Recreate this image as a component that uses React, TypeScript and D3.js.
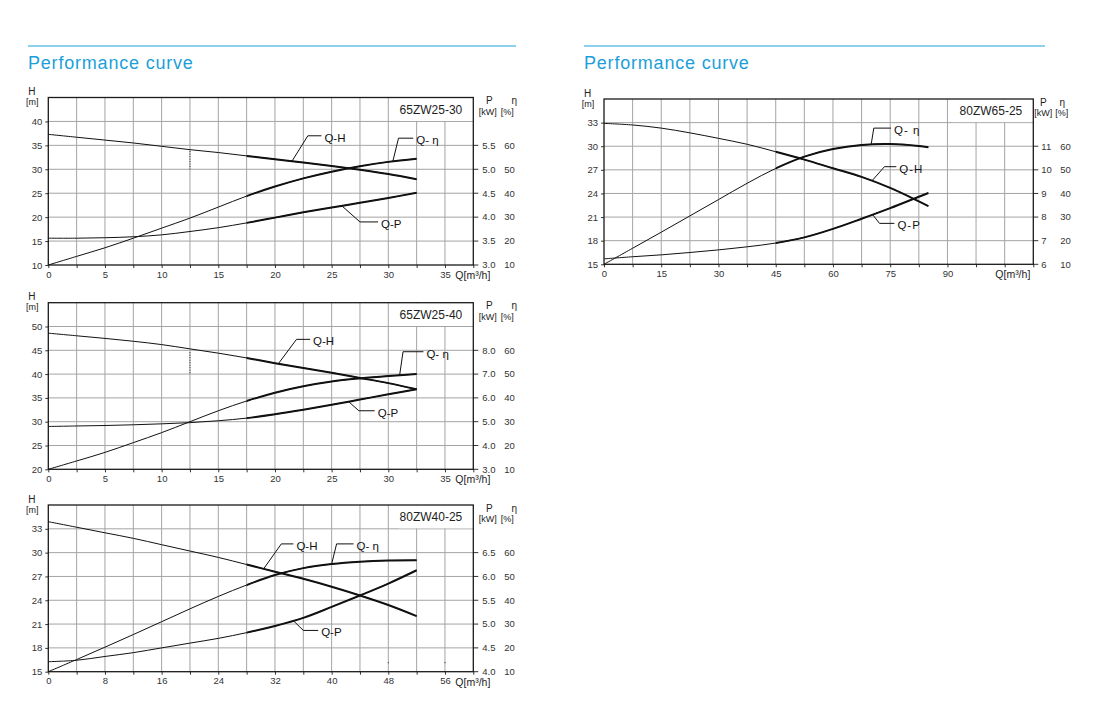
import React, { useEffect, useRef } from "react";
import * as d3 from "d3";

const FONT = '"Liberation Sans", Arial, Helvetica, sans-serif';

// ---- 65ZW25-30 ----
const q1 = [0, 2.5, 5, 7.5, 10, 12.5, 15, 17.5, 20, 22.5, 25, 27.5, 30, 32.5];
const head1 = [37.3, 36.7, 36.1, 35.5, 34.8, 34.1, 33.5, 32.8, 32.1, 31.4, 30.7, 29.9, 29.0, 27.9];
const eff1 = [10, 13.6, 17.2, 21.2, 25.4, 29.6, 34.2, 38.8, 42.8, 46.2, 49.0, 51.3, 53.1, 54.4];
const power1 = [3.56, 3.56, 3.57, 3.59, 3.63, 3.7, 3.78, 3.88, 3.99, 4.1, 4.2, 4.3, 4.4, 4.51];
const qTicks1 = [0, 5, 10, 15, 20, 25, 30, 35];
const hTicks1 = [10, 15, 20, 25, 30, 35, 40];
const pTicks1 = [3.0, 3.5, 4.0, 4.5, 5.0, 5.5];

// ---- 65ZW25-40 ----
const q2 = [0, 2.5, 5, 7.5, 10, 12.5, 15, 17.5, 20, 22.5, 25, 27.5, 30, 32.5];
const head2 = [48.6, 48.05, 47.5, 46.9, 46.2, 45.3, 44.4, 43.4, 42.3, 41.3, 40.3, 39.2, 38.1, 36.8];
const eff2 = [10, 13.5, 17.1, 21.2, 25.4, 30, 34.6, 38.7, 42.2, 44.9, 46.9, 48.2, 49.2, 50];
const power2 = [4.8, 4.82, 4.84, 4.87, 4.91, 4.96, 5.04, 5.15, 5.31, 5.5, 5.71, 5.93, 6.15, 6.36];
const qTicks2 = [0, 5, 10, 15, 20, 25, 30, 35];
const hTicks2 = [20, 25, 30, 35, 40, 45, 50];
const pTicks2 = [3.0, 4.0, 5.0, 6.0, 7.0, 8.0];

// ---- 80ZW40-25 ----
const q3 = [0, 4, 8, 12, 16, 20, 24, 28, 32, 36, 40, 44, 48, 52];
const head3 = [33.9, 33.2, 32.5, 31.8, 31.0, 30.2, 29.4, 28.5, 27.6, 26.7, 25.7, 24.6, 23.4, 22.0];
const eff3 = [10, 15.1, 20.3, 25.6, 31.0, 36.4, 41.6, 46.4, 50.6, 53.5, 55.2, 56.2, 56.7, 56.8];
const power3 = [4.21, 4.24, 4.32, 4.4, 4.5, 4.6, 4.7, 4.82, 4.96, 5.13, 5.36, 5.6, 5.85, 6.13];
const qTicks3 = [0, 8, 16, 24, 32, 40, 48, 56];
const hTicks3 = [15, 18, 21, 24, 27, 30, 33];
const pTicks3 = [4.0, 4.5, 5.0, 5.5, 6.0, 6.5];

// ---- 80ZW65-25 ----
const q4 = [0, 7.5, 15, 22.5, 30, 37.5, 45, 52.5, 60, 67.5, 75, 82.5, 85];
const head4 = [32.9, 32.7, 32.3, 31.7, 31.0, 30.25, 29.3, 28.3, 27.2, 26.1, 24.7, 23.0, 22.4];
const eff4 = [10, 16.8, 23.6, 30.5, 37.4, 44.3, 50.6, 55.6, 58.8, 60.5, 60.9, 60.1, 59.6];
const power4 = [6.23, 6.32, 6.4, 6.5, 6.61, 6.74, 6.9, 7.14, 7.5, 7.93, 8.38, 8.86, 9.02];
const qTicks4 = [0, 15, 30, 45, 60, 75, 90];
const hTicks4 = [15, 18, 21, 24, 27, 30, 33];
const pTicks4 = [6, 7, 8, 9, 10, 11];

const effTicks = [10, 20, 30, 40, 50, 60];

type SeriesKey = "h" | "eff" | "p";
interface Leader {
  name: string;
  series: SeriesKey;
  at: number;
  elbow: [number, number];
  end: number;
}
interface ChartSpec {
  id: string;
  model: string;
  left: number;
  top: number;
  width: number;
  height: number;
  q: number[];
  head: number[];
  eff: number[];
  power: number[];
  qTicks: number[];
  qStep: number;
  qMax: number;
  hTicks: number[];
  hStep: number;
  pTicks: number[];
  pFormat: (d: number) => string;
  thickFrom: number;
  boxFrom: number;
  leaders: Leader[];
  dots: { q: number; h0: number; h1: number }[];
  pDx: number;
  eDx: number;
  headP: number;
  headE: number;
  headKw: number;
  headPct: number;
  qLabelDx: number;
  labelSpacing: number;
}

const f1 = d3.format(".1f");
const f0 = d3.format("d");

const specs: ChartSpec[] = [
  {
    id: "c1", model: "65ZW25-30", left: 48.3, top: 97.5, width: 425, height: 167.5,
    q: q1, head: head1, eff: eff1, power: power1,
    qTicks: qTicks1, qStep: 2.5, qMax: 37.5, hTicks: hTicks1, hStep: 5, pTicks: pTicks1, pFormat: f1,
    thickFrom: 17.5, boxFrom: 31,
    leaders: [
      { name: "Q-H", series: "h", at: 21.5, elbow: [22.9, 37.0], end: 24.1 },
      { name: "Q- η", series: "eff", at: 30.4, elbow: [30.9, 36.5], end: 32.2 },
      { name: "Q-P", series: "p", at: 25.9, elbow: [27.5, 19.0], end: 29.1 },
    ],
    dots: [{ q: 12.5, h0: 33.8, h1: 30 }],
    pDx: 9, eDx: 31, headP: 16, headE: 41, headKw: 14.5, headPct: 34, qLabelDx: -18, labelSpacing: 0,
  },
  {
    id: "c2", model: "65ZW25-40", left: 48.3, top: 302.7, width: 425, height: 166.6,
    q: q2, head: head2, eff: eff2, power: power2,
    qTicks: qTicks2, qStep: 2.5, qMax: 37.5, hTicks: hTicks2, hStep: 5, pTicks: pTicks2, pFormat: f1,
    thickFrom: 17.5, boxFrom: 31,
    leaders: [
      { name: "Q-H", series: "h", at: 20.3, elbow: [21.9, 47.3], end: 23.1 },
      { name: "Q- η", series: "eff", at: 31.0, elbow: [31.3, 44.7], end: 33.1 },
      { name: "Q-P", series: "p", at: 26.5, elbow: [27.4, 32.3], end: 28.8 },
    ],
    dots: [{ q: 12.5, h0: 44.6, h1: 40 }],
    pDx: 9, eDx: 31, headP: 16, headE: 41, headKw: 14.5, headPct: 34, qLabelDx: -18, labelSpacing: 0,
  },
  {
    id: "c3", model: "80ZW40-25", left: 48.3, top: 505, width: 425, height: 166.7,
    q: q3, head: head3, eff: eff3, power: power3,
    qTicks: qTicks3, qStep: 4, qMax: 60, hTicks: hTicks3, hStep: 3, pTicks: pTicks3, pFormat: f1,
    thickFrom: 28, boxFrom: 49.5,
    leaders: [
      { name: "Q-H", series: "h", at: 30.4, elbow: [32.9, 31.1], end: 34.6 },
      { name: "Q- η", series: "eff", at: 40.0, elbow: [40.7, 31.1], end: 43.1 },
      { name: "Q-P", series: "p", at: 34.6, elbow: [36.0, 20.2], end: 38.1 },
    ],
    dots: [{ q: 48, h0: 16.2, h1: 15.9 }, { q: 56, h0: 16.2, h1: 15.9 }],
    pDx: 9, eDx: 31, headP: 16, headE: 41, headKw: 14.5, headPct: 34, qLabelDx: -18, labelSpacing: 0,
  },
  {
    id: "c4", model: "80ZW65-25", left: 604, top: 99, width: 429.3, height: 165.3,
    q: q4, head: head4, eff: eff4, power: power4,
    qTicks: qTicks4, qStep: 7.5, qMax: 112.5, hTicks: hTicks4, hStep: 3, pTicks: pTicks4, pFormat: f0,
    thickFrom: 45, boxFrom: 91.5,
    leaders: [
      { name: "Q- η", series: "eff", at: 70, elbow: [70.7, 32.3], end: 75.2 },
      { name: "Q-H", series: "h", at: 70.2, elbow: [73.5, 27.4], end: 76.6 },
      { name: "Q-P", series: "p", at: 70.4, elbow: [72.2, 20.2], end: 76.1 },
    ],
    dots: [],
    pDx: 8, eDx: 27, headP: 10, headE: 29, headKw: 10, headPct: 28.5, qLabelDx: -38, labelSpacing: 1,
  },
];

function interp(qs: number[], vs: number[], q: number) {
  const i = Math.min(qs.length - 1, Math.max(1, d3.bisectLeft(qs, q)));
  const t = (q - qs[i - 1]) / (qs[i] - qs[i - 1]);
  return vs[i - 1] + t * (vs[i] - vs[i - 1]);
}

const PumpChart = ({ spec: s }: { spec: ChartSpec }) => {
  const ref = useRef<SVGGElement>(null);

  useEffect(() => {
    if (!ref.current) return;
    const g = d3.select(ref.current);
    g.selectAll("*").remove();

    const w = s.width;
    const h = s.height;
    const nR = s.pTicks.length - 1;
    const hTop = s.hTicks[s.hTicks.length - 1] + s.hStep;

    const x = d3.scaleLinear().domain([0, s.qMax]).range([0, w]);
    const y = d3.scaleLinear().domain([s.hTicks[0], hTop]).range([h, 0]);
    const yP = d3.scaleLinear().domain([s.pTicks[0], s.pTicks[nR]]).range([y(s.hTicks[0]), y(s.hTicks[nR])]);
    const yE = d3.scaleLinear().domain([effTicks[0], effTicks[nR]]).range([y(s.hTicks[0]), y(s.hTicks[nR])]);

    const gridQ = d3.range(0, s.qMax + 1e-6, s.qStep);

    // grid
    const grid = g.append("g").attr("stroke", "#a4a4a4").attr("stroke-width", 1);
    grid.selectAll(".vx").data(gridQ.slice(1, -1)).join("line")
      .attr("x1", (d) => x(d)).attr("x2", (d) => x(d)).attr("y1", 0).attr("y2", h);
    grid.selectAll(".hy").data(s.hTicks.slice(1)).join("line")
      .attr("x1", 0).attr("x2", w).attr("y1", (d) => y(d)).attr("y2", (d) => y(d));

    // model box
    g.append("rect")
      .attr("x", x(s.boxFrom)).attr("y", 0.5)
      .attr("width", w - x(s.boxFrom) - 0.5)
      .attr("height", y(s.hTicks[s.hTicks.length - 1]) - 1)
      .attr("fill", "#fff");
    g.append("text")
      .attr("x", w - 11).attr("y", 16)
      .attr("text-anchor", "end").attr("font-size", 12).attr("fill", "#222")
      .text(s.model);

    // dotted marks
    s.dots.forEach((d) => {
      g.append("line")
        .attr("x1", x(d.q)).attr("x2", x(d.q)).attr("y1", y(d.h0)).attr("y2", y(d.h1))
        .attr("stroke", "#222").attr("stroke-width", 1).attr("stroke-dasharray", "1,1.5");
    });

    // axes
    const leftAxis = g.append("g")
      .call(d3.axisLeft(y).tickValues(s.hTicks).tickSize(3).tickPadding(3));
    leftAxis.select(".domain").remove();
    leftAxis.attr("font-size", 9.5).attr("font-family", FONT).attr("color", "#333");

    const bottomAxis = g.append("g")
      .attr("transform", `translate(0,${h})`)
      .call(
        d3.axisBottom(x).tickValues(gridQ).tickSize(3).tickPadding(3)
          .tickFormat((d) => (s.qTicks.includes(+d) ? String(d) : ""))
      );
    bottomAxis.select(".domain").remove();
    bottomAxis.attr("font-size", 9.5).attr("font-family", FONT).attr("color", "#333");

    // right axis (P and efficiency)
    const right = g.append("g").attr("font-size", 9.5).attr("fill", "#333");
    s.pTicks.forEach((p, i) => {
      const yy = yP(p);
      right.append("line").attr("x1", w).attr("x2", w + 5).attr("y1", yy).attr("y2", yy)
        .attr("stroke", "#333").attr("stroke-width", 1);
      right.append("text").attr("x", w + s.pDx).attr("y", yy).attr("dy", "0.35em").text(s.pFormat(p));
      right.append("text").attr("x", w + s.eDx).attr("y", yy).attr("dy", "0.35em").text(String(effTicks[i]));
    });

    // axis titles
    const tt = g.append("g").attr("fill", "#222").attr("text-anchor", "middle");
    tt.append("text").attr("x", -16.5).attr("y", -2.5).attr("font-size", 10).text("H");
    tt.append("text").attr("x", -16).attr("y", 7.5).attr("font-size", 9).text("[m]");
    tt.append("text").attr("x", w + s.headP).attr("y", 6.5).attr("font-size", 10).text("P");
    tt.append("text").attr("x", w + s.headE).attr("y", 6.5).attr("font-size", 10).text("η");
    tt.append("text").attr("x", w + s.headKw).attr("y", 17).attr("font-size", 9).text("[kW]");
    tt.append("text").attr("x", w + s.headPct).attr("y", 17).attr("font-size", 9).text("[%]");
    g.append("text")
      .attr("x", w + s.qLabelDx).attr("y", h + 14)
      .attr("font-size", 10.5).attr("fill", "#222")
      .text("Q[m³/h]");

    // frame
    g.append("rect")
      .attr("width", w).attr("height", h)
      .attr("fill", "none").attr("stroke", "#1a1a1a").attr("stroke-width", 1.3);

    // curves
    const series: Record<SeriesKey, { vals: number[]; sc: d3.ScaleLinear<number, number> }> = {
      h: { vals: s.head, sc: y },
      eff: { vals: s.eff, sc: yE },
      p: { vals: s.power, sc: yP },
    };
    const clipId = `thick-${s.id}`;
    g.append("clipPath").attr("id", clipId)
      .append("rect")
      .attr("x", x(s.thickFrom)).attr("y", -5)
      .attr("width", w).attr("height", h + 10);

    (Object.keys(series) as SeriesKey[]).forEach((k) => {
      const se = series[k];
      const line = d3.line<number>()
        .x((_, i) => x(s.q[i]))
        .y((d) => se.sc(d))
        .curve(d3.curveCatmullRom.alpha(0.5));
      g.append("path").attr("d", line(se.vals)).attr("fill", "none")
        .attr("stroke", "#111").attr("stroke-width", 1);
      g.append("path").attr("d", line(se.vals)).attr("fill", "none")
        .attr("clip-path", `url(#${clipId})`)
        .attr("stroke", "#111").attr("stroke-width", 2);
    });

    // leaders + curve names
    s.leaders.forEach((l) => {
      const se = series[l.series];
      const ax = x(l.at);
      const ay = se.sc(interp(s.q, se.vals, l.at));
      const ex = x(l.elbow[0]);
      const ey = y(l.elbow[1]);
      const tx = x(l.end);
      g.append("polyline")
        .attr("points", `${ax},${ay} ${ex},${ey} ${tx},${ey}`)
        .attr("fill", "none").attr("stroke", "#111").attr("stroke-width", 1);
      g.append("text")
        .attr("x", tx + 3).attr("y", ey + 2).attr("dy", "0.35em")
        .attr("font-size", 11.5).attr("letter-spacing", s.labelSpacing).attr("fill", "#111")
        .text(l.name);
    });
  }, [s]);

  return <g ref={ref} transform={`translate(${s.left},${s.top})`} />;
};

const headers = [
  { x: 28, x2: 516 },
  { x: 584, x2: 1045 },
];

export default function App() {
  return (
    <svg
      width={1099}
      height={720}
      viewBox="0 0 1099 720"
      style={{ position: "absolute", left: 0, top: 0, background: "#fff" }}
      fontFamily={FONT}
    >
      <rect width={1099} height={720} fill="#fff" />
      {headers.map((hd, i) => (
        <g key={i}>
          <line x1={hd.x} x2={hd.x2} y1={46} y2={46} stroke="#1c9fd9" strokeWidth={1.2} />
          <text x={hd.x} y={69} fill="#1c9fd9" fontSize={18} letterSpacing={0.8}>
            Performance curve
          </text>
        </g>
      ))}
      {specs.map((s) => (
        <PumpChart key={s.id} spec={s} />
      ))}
    </svg>
  );
}
